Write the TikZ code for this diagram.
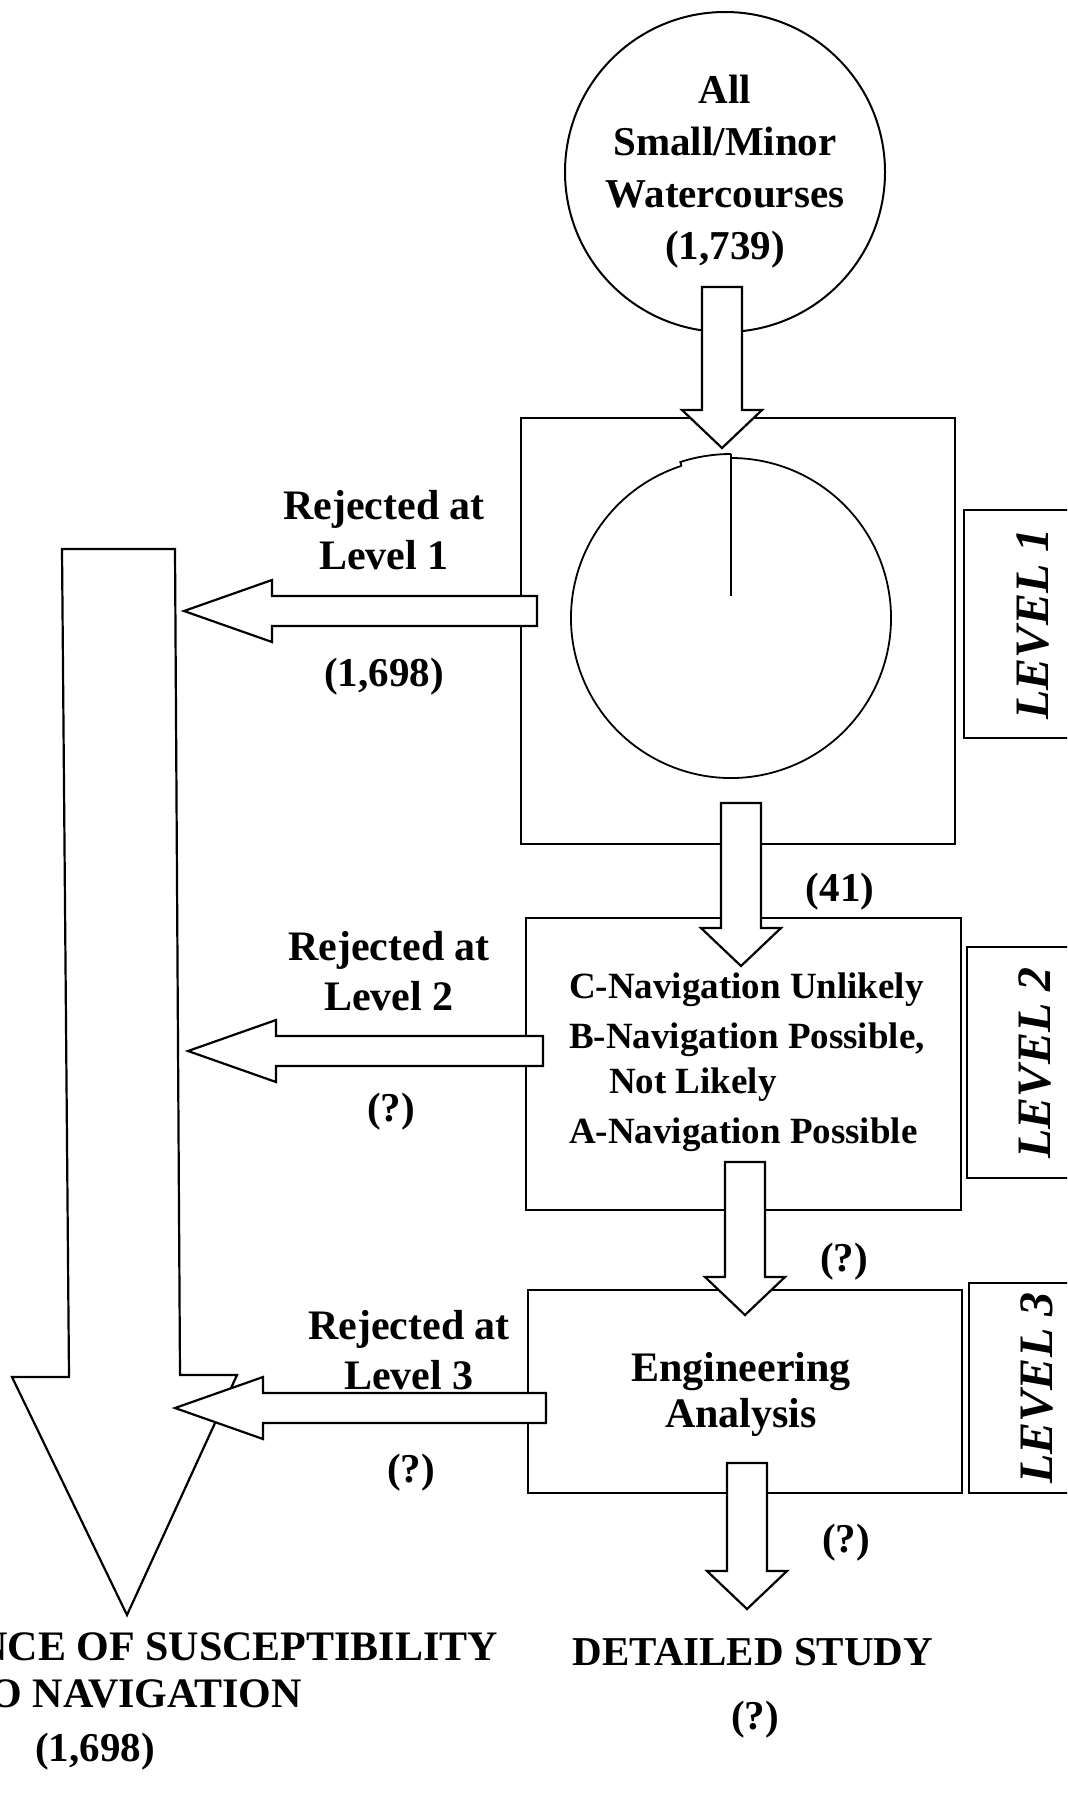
\documentclass[tikz,border=0pt]{standalone}
\usepackage{fontspec}
\setmainfont{Liberation Serif}
\usetikzlibrary{calc}

% block arrows drawn from a tail coordinate to a tip coordinate
\newcommand{\downblock}[2]{%
  \filldraw[blockarrow] let \p1=(#1), \p2=(#2) in
    (\x2-10pt,\y1) -- (\x2+10pt,\y1) -- (\x2+10pt,\y2+19pt) -- (\x2+20pt,\y2+19pt)
    -- (\x2,\y2) -- (\x2-20pt,\y2+19pt) -- (\x2-10pt,\y2+19pt) -- cycle;}
\newcommand{\leftblock}[2]{%
  \filldraw[blockarrow] let \p1=(#1), \p2=(#2) in
    (\x1,\y2+7.5pt) -- (\x1,\y2-7.5pt) -- (\x2+44pt,\y2-7.5pt) -- (\x2+44pt,\y2-15.5pt)
    -- (\x2,\y2) -- (\x2+44pt,\y2+15.5pt) -- (\x2+44pt,\y2+7.5pt) -- cycle;}

\begin{document}
\begin{tikzpicture}[x=0.5pt, y=-0.5pt,
    box/.style = {draw, line width=1.3pt, inner sep=0pt},
    tag/.style = {draw, line width=1.2pt, inner sep=0pt},
    blockarrow/.style = {draw, fill=white, line width=1.1pt, line join=miter},
    lbl/.style = {font=\bfseries\fontsize{21}{25}\selectfont, align=center},
    count/.style = {font=\bfseries\fontsize{20.5}{23}\selectfont},
    nav/.style = {font=\bfseries\fontsize{18.5}{21}\selectfont, anchor=base west},
    lvl/.style = {font=\bfseries\itshape\fontsize{24}{28}\selectfont, rotate=90}]
    \useasboundingbox (0,0) rectangle (1067,1819);
    \clip (0,0) rectangle (1067,1819);

    % boxes of the three levels
    \node [box, minimum width=217pt, minimum height=213pt] (lvlone) at (738,631) {};
    \node [box, minimum width=217.5pt, minimum height=146pt] (lvltwo) at (743.5,1064) {};
    \node [box, minimum width=217pt, minimum height=101.5pt] (lvlthree) at (745,1391.5) {};

    % level tags at the right edge
    \node [tag, minimum width=55pt, minimum height=114pt] (tagone) at (1019,624) {};
    \node [tag, minimum width=55pt, minimum height=115.5pt] (tagtwo) at (1022,1062.5) {};
    \node [tag, minimum width=55pt, minimum height=105pt] (tagthree) at (1024,1388) {};
    \node [lvl] (tagonetxt) at (1033,624) {LEVEL 1};
    \node [lvl] (tagtwotxt) at (1035,1063) {LEVEL 2};
    \node [lvl] (tagthreetxt) at (1037,1388) {LEVEL 3};

    % source circle
    \node [draw, circle, line width=1pt, minimum size=160pt, inner sep=0pt, align=center,
           font=\bfseries\fontsize{20.5}{26}\selectfont] (src) at (725,172)
           {All\\Small/Minor\\Watercourses\\(1,739)};

    % pie inside level 1
    \coordinate (pie) at (731,618);
    \draw [line width=0.9pt] ([shift={(108:80pt)}]pie.center) arc[start angle=108, end angle=450, radius=80pt];
    \draw [line width=0.9pt] ([shift={(90:82pt)}]pie.center) arc[start angle=90, end angle=108, radius=82pt]
          -- ([shift={(108:80pt)}]pie.center);
    \draw [line width=0.9pt] ([shift={(90:82pt)}]pie.center) -- ([yshift=11pt]pie.center);

    % big arrow on the left
    \filldraw [blockarrow] (62,549) -- (175,549) -- (180,1375) -- (237,1375) -- (127,1615)
          -- (12,1377) -- (69,1377) -- cycle;

    % arrows down the right column
    \coordinate (a1s) at (722,287);  \coordinate (a1e) at (722,448);
    \coordinate (a2s) at (741,803);  \coordinate (a2e) at (741,966);
    \coordinate (a3s) at (745,1162); \coordinate (a3e) at (745,1315);
    \coordinate (a4s) at (747,1463); \coordinate (a4e) at (747,1609);
    \downblock{a1s}{a1e}
    \downblock{a2s}{a2e}
    \downblock{a3s}{a3e}
    \downblock{a4s}{a4e}

    % rejected arrows
    \coordinate (r1s) at (537,611);  \coordinate (r1e) at (184,611);
    \coordinate (r2s) at (543,1051); \coordinate (r2e) at (188,1051);
    \coordinate (r3s) at (546,1408); \coordinate (r3e) at (175,1408);
    \leftblock{r1s}{r1e}
    \leftblock{r2s}{r2e}
    \leftblock{r3s}{r3e}

    \node [lbl] (rejone) at (384,530) {Rejected at\\Level 1};
    \node [count] (cntone) at (384,677) {(1,698)};
    \node [lbl] (rejtwo) at (389,971) {Rejected at\\Level 2};
    \node [count] (cnttwo) at (391,1112) {(?)};
    \node [lbl] (rejthree) at (409,1350) {Rejected at\\Level 3};
    \node [count] (cntthree) at (411,1473) {(?)};

    % texts of the right column
    \node [count] (cntpass) at (840,892) {(41)};
    \node [nav] (navc) at (562,998) {C-Navigation Unlikely};
    \node [nav] (navb) at (562,1048) {B-Navigation Possible,};
    \node [nav] (navbb) at (602,1093) {Not Likely};
    \node [nav] (nava) at (562,1143) {A-Navigation Possible};
    \node [count] (cntlvl) at (844,1262) {(?)};
    \node [lbl, font=\bfseries\fontsize{21}{23}\selectfont] (eng) at (741,1394) {Engineering\\Analysis};
    \node [count] (cntdet) at (846,1543) {(?)};
    \node [count] (detail) at (753,1652) {DETAILED STUDY};
    \node [count] (cntfin) at (755,1720) {(?)};

    % outcome at the bottom left
    \node [count, font=\bfseries\fontsize{21}{23}\selectfont, anchor=base east] (absone) at (505,1660) {ABSENCE OF SUSCEPTIBILITY};
    \node [count, font=\bfseries\fontsize{21}{23}\selectfont, anchor=base east] (abstwo) at (309,1707) {TO NAVIGATION};
    \node [count] (cntabs) at (95,1752) {(1,698)};
\end{tikzpicture}
\end{document}
